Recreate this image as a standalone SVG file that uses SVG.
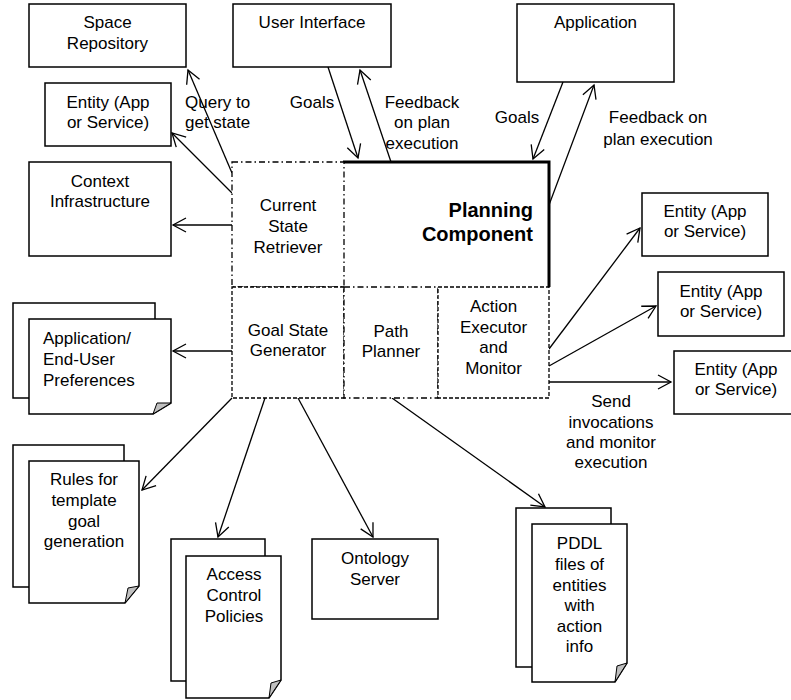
<svg xmlns="http://www.w3.org/2000/svg" width="791" height="700" viewBox="0 0 791 700">
<defs>
<style>
.box{fill:#fff;stroke:#000;stroke-width:1.5}
.t{font-family:"Liberation Sans",Arial,sans-serif;font-size:17px;fill:#000;text-anchor:middle}
.tl{text-anchor:start}
.tr{text-anchor:end}
.b{font-weight:bold;font-size:20px}
.ln{stroke:#000;stroke-width:1.3;fill:none}
.dd{fill:#fff;stroke:#000;stroke-width:1.3;stroke-dasharray:6,3,1.5,3}
.ds{fill:#fff;stroke:#000;stroke-width:1.3;stroke-dasharray:4,2}
.fold{fill:#c0c0c0;stroke:#000;stroke-width:1}
</style>
<marker id="arr" markerUnits="userSpaceOnUse" markerWidth="16" markerHeight="16" refX="14" refY="8" orient="auto" viewBox="0 0 16 16">
<path d="M1,1 L14,8 L1,15" fill="none" stroke="#000" stroke-width="1.3"/>
</marker>
</defs>
<rect width="791" height="700" fill="#fff"/>

<g id="connectors">
<line class="ln" x1="232" y1="173" x2="188" y2="70" marker-end="url(#arr)"/>
<line class="ln" x1="232" y1="193" x2="172" y2="133" marker-end="url(#arr)"/>
<line class="ln" x1="232" y1="225" x2="173" y2="225" stroke-width="2" marker-end="url(#arr)"/>
<line class="ln" x1="328" y1="67" x2="358" y2="158" marker-end="url(#arr)"/>
<line class="ln" x1="391" y1="162" x2="360" y2="70" marker-end="url(#arr)"/>
<line class="ln" x1="563" y1="82" x2="533" y2="159" marker-end="url(#arr)"/>
<line class="ln" x1="549" y1="205" x2="594" y2="85" marker-end="url(#arr)"/>
<line class="ln" x1="549" y1="349" x2="640" y2="228" marker-end="url(#arr)"/>
<line class="ln" x1="549" y1="366" x2="656" y2="306" marker-end="url(#arr)"/>
<line class="ln" x1="549" y1="382" x2="671" y2="382" marker-end="url(#arr)"/>
<line class="ln" x1="232" y1="351" x2="173" y2="351" stroke-width="2" marker-end="url(#arr)"/>
<line class="ln" x1="232" y1="398" x2="142" y2="490" marker-end="url(#arr)"/>
<line class="ln" x1="265" y1="398" x2="218" y2="537" marker-end="url(#arr)"/>
<line class="ln" x1="298" y1="398" x2="373" y2="537" marker-end="url(#arr)"/>
<line class="ln" x1="392" y1="398" x2="545" y2="507" marker-end="url(#arr)"/>
<text class="t tl" x="185" y="108">Query to</text>
<text class="t tl" x="185" y="128">get state</text>
<text class="t" x="312" y="108">Goals</text>
<text class="t" x="422" y="108">Feedback</text>
<text class="t" x="422" y="128">on plan</text>
<text class="t" x="422" y="149">execution</text>
<text class="t" x="517" y="123">Goals</text>
<text class="t" x="658" y="123">Feedback on</text>
<text class="t" x="658" y="145">plan execution</text>
<text class="t" x="611" y="407">Send</text>
<text class="t" x="611" y="428">invocations</text>
<text class="t" x="611" y="448">and monitor</text>
<text class="t" x="611" y="468">execution</text>
</g>

<g id="space-repository">
<rect class="box" x="29" y="4" width="157" height="63"/>
<text class="t" x="107.5" y="28">Space</text>
<text class="t" x="107.5" y="49">Repository</text>
</g>
<g id="user-interface">
<rect class="box" x="233" y="4" width="158" height="63"/>
<text class="t" x="312" y="28">User Interface</text>
</g>
<g id="entity-left">
<rect class="box" x="45" y="83" width="126" height="63"/>
<text class="t" x="108" y="108">Entity (App</text>
<text class="t" x="108" y="128">or Service)</text>
</g>
<g id="context-infrastructure">
<rect class="box" x="29" y="162" width="142" height="94"/>
<text class="t" x="100" y="187">Context</text>
<text class="t" x="100" y="207">Infrastructure</text>
</g>
<g id="application">
<rect class="box" x="517" y="4" width="157" height="78"/>
<text class="t" x="595.5" y="28">Application</text>
</g>
<g id="entity-right-1">
<rect class="box" x="642" y="193" width="126" height="63"/>
<text class="t" x="705" y="217">Entity (App</text>
<text class="t" x="705" y="237">or Service)</text>
</g>
<g id="entity-right-2">
<rect class="box" x="658" y="272" width="126" height="64"/>
<text class="t" x="721" y="297">Entity (App</text>
<text class="t" x="721" y="317">or Service)</text>
</g>
<g id="entity-right-3">
<rect class="box" x="674" y="351" width="126" height="63"/>
<text class="t" x="736" y="375">Entity (App</text>
<text class="t" x="736" y="395">or Service)</text>
</g>

<g id="planning-component">
<path d="M343,162 H549 V287" fill="none" stroke="#000" stroke-width="3"/>
<text class="t tr b" x="533" y="217">Planning</text>
<text class="t tr b" x="533" y="241">Component</text>
</g>
<g id="current-state-retriever">
<rect class="dd" x="232" y="162" width="112" height="125"/>
<text class="t" x="288" y="211">Current</text>
<text class="t" x="288" y="232">State</text>
<text class="t" x="288" y="253">Retriever</text>
</g>
<g id="goal-state-generator">
<rect class="ds" x="232" y="287" width="112" height="111"/>
<text class="t" x="288" y="336">Goal State</text>
<text class="t" x="288" y="356">Generator</text>
</g>
<g id="path-planner">
<rect class="dd" x="344" y="287" width="94" height="111"/>
<text class="t" x="391" y="337">Path</text>
<text class="t" x="391" y="357">Planner</text>
</g>
<g id="action-executor">
<rect class="ds" x="438" y="287" width="111" height="111"/>
<text class="t" x="493.5" y="312">Action</text>
<text class="t" x="493.5" y="333">Executor</text>
<text class="t" x="493.5" y="353">and</text>
<text class="t" x="493.5" y="374">Monitor</text>
</g>

<g id="preferences">
<rect class="box" x="13" y="303" width="142" height="95"/>
<path class="box" d="M29,319 H171 V403 L153,414 H29 Z"/>
<path class="fold" d="M153,414 L157,403 L171,403 Z"/>
<text class="t tl" x="43" y="344">Application/</text>
<text class="t tl" x="43" y="365">End-User</text>
<text class="t tl" x="43" y="386">Preferences</text>
</g>
<g id="rules">
<rect class="box" x="13" y="445" width="111" height="142"/>
<path class="box" d="M29,461 H139 V586 L125,603 H29 Z"/>
<path class="fold" d="M125,603 L128,588 L139,586 Z"/>
<text class="t" x="84" y="485">Rules for</text>
<text class="t" x="84" y="506">template</text>
<text class="t" x="84" y="527">goal</text>
<text class="t" x="84" y="547">generation</text>
</g>
<g id="access-control">
<rect class="box" x="171" y="539" width="94" height="142"/>
<path class="box" d="M186,556 H281 V680 L269,698 H186 Z"/>
<path class="fold" d="M269,698 L271,683 L281,680 Z"/>
<text class="t" x="234" y="580">Access</text>
<text class="t" x="234" y="601">Control</text>
<text class="t" x="234" y="622">Policies</text>
</g>
<g id="ontology-server">
<rect class="box" x="312" y="539" width="126" height="80"/>
<text class="t" x="375" y="564">Ontology</text>
<text class="t" x="375" y="585">Server</text>
</g>
<g id="pddl">
<rect class="box" x="516" y="508" width="95" height="159"/>
<path class="box" d="M532,524 H627 V663 L615,682 H532 Z"/>
<path class="fold" d="M615,682 L617,666 L627,663 Z"/>
<text class="t" x="579.5" y="549">PDDL</text>
<text class="t" x="579.5" y="570">files of</text>
<text class="t" x="579.5" y="591">entities</text>
<text class="t" x="579.5" y="611">with</text>
<text class="t" x="579.5" y="632">action</text>
<text class="t" x="579.5" y="652">info</text>
</g>
</svg>
